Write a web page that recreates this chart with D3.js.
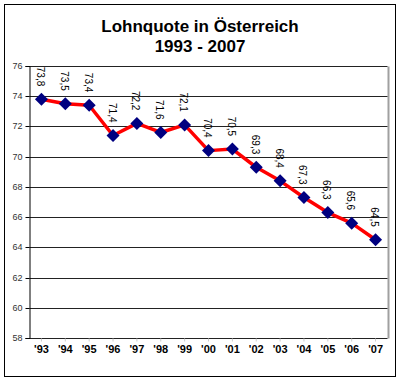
<!DOCTYPE html>
<html>
<head>
<meta charset="utf-8">
<script src="https://cdn.jsdelivr.net/npm/d3@7"></script>
<style>
  body { margin: 0; background: #fff; }
  svg { display: block; font-family: Arial, "Liberation Sans", sans-serif; }
</style>
</head>
<body>
<svg id="chart" width="400" height="382"></svg>
<script>
// data
const years = ["'93", "'94", "'95", "'96", "'97", "'98", "'99", "'00", "'01", "'02", "'03", "'04", "'05", "'06", "'07"];
const lohnquote = [73.8, 73.5, 73.4, 71.4, 72.2, 71.6, 72.1, 70.4, 70.5, 69.3, 68.4, 67.3, 66.3, 65.6, 64.5];
const yTicks = [58, 60, 62, 64, 66, 68, 70, 72, 74, 76];

const svg = d3.select("#chart");
const plot = {left: 29.5, right: 387.5, top: 66, bottom: 338};

// outer frame
svg.append("rect")
  .attr("x", 4.5).attr("y", 4.5)
  .attr("width", 391).attr("height", 372)
  .attr("fill", "#fff").attr("stroke", "#000").attr("stroke-width", 1);

// title
svg.append("text")
  .attr("x", 200).attr("y", 32)
  .attr("text-anchor", "middle")
  .attr("font-size", 17).attr("font-weight", "bold")
  .text("Lohnquote in Österreich");
svg.append("text")
  .attr("x", 200).attr("y", 52)
  .attr("text-anchor", "middle")
  .attr("font-size", 17).attr("font-weight", "bold")
  .text("1993 - 2007");

const x = d3.scaleBand().domain(years).range([plot.left, plot.right]);
const y = d3.scaleLinear().domain([58, 76]).range([plot.bottom, plot.top]);
const cx = d => x(d) + x.bandwidth() / 2;
const crisp = v => Math.round(v) + 0.5;

// plot area border (grey, right side)
svg.append("line")
  .attr("x1", crisp(plot.right)).attr("x2", crisp(plot.right))
  .attr("y1", crisp(plot.top)).attr("y2", crisp(plot.bottom))
  .attr("stroke", "#a0a0a0").attr("stroke-width", 2);

// gridlines
svg.append("g").selectAll("line")
  .data(yTicks)
  .join("line")
  .attr("x1", plot.left).attr("x2", plot.right)
  .attr("y1", d => crisp(y(d))).attr("y2", d => crisp(y(d)))
  .attr("stroke", "#222").attr("stroke-width", 1);

// y axis
const yAxis = svg.append("g")
  .attr("transform", `translate(${plot.left},0)`)
  .call(d3.axisLeft(y).tickValues(yTicks).tickSize(4).tickPadding(3).tickFormat(d3.format("d")));
yAxis.select(".domain").attr("stroke", "#000");
yAxis.selectAll(".tick line").attr("stroke", "#000");
yAxis.selectAll("text").attr("font-size", 9).attr("fill", "#333").attr("font-family", "Arial, 'Liberation Sans', sans-serif");
yAxis.selectAll(".tick").attr("transform", d => `translate(0,${crisp(y(d))})`);

// x axis labels
const xAxis = svg.append("g")
  .attr("transform", `translate(0,${crisp(plot.bottom)})`)
  .call(d3.axisBottom(x).tickSize(3).tickPadding(4));
xAxis.select(".domain").remove();
xAxis.selectAll(".tick line").attr("stroke", "#ccc");
xAxis.selectAll("text")
  .attr("font-size", 11).attr("font-weight", "bold").attr("fill", "#000")
  .attr("font-family", "Arial, 'Liberation Sans', sans-serif");

// line
const line = d3.line()
  .x((d, i) => cx(years[i]))
  .y(d => y(d));
svg.append("path")
  .datum(lohnquote)
  .attr("d", line)
  .attr("fill", "none")
  .attr("stroke", "#ff0000")
  .attr("stroke-width", 3.5)
  .attr("stroke-linejoin", "round");

// markers
svg.append("g").selectAll("path")
  .data(lohnquote)
  .join("path")
  .attr("transform", (d, i) => `translate(${cx(years[i])},${y(d)})`)
  .attr("d", "M0,-6.5L6.5,0L0,6.5L-6.5,0Z")
  .attr("fill", "#000080");

// value labels, rotated
const fmt = d => d3.format(".1f")(d).replace(".", ",");
svg.append("g").selectAll("text")
  .data(lohnquote)
  .join("text")
  .attr("transform", (d, i) => `translate(${cx(years[i]) - 1},${y(d) - 13}) rotate(90)`)
  .attr("text-anchor", "end")
  .attr("dy", "0.35em")
  .attr("font-size", 10)
  .attr("fill", "#000")
  .text(fmt);
</script>
</body>
</html>
